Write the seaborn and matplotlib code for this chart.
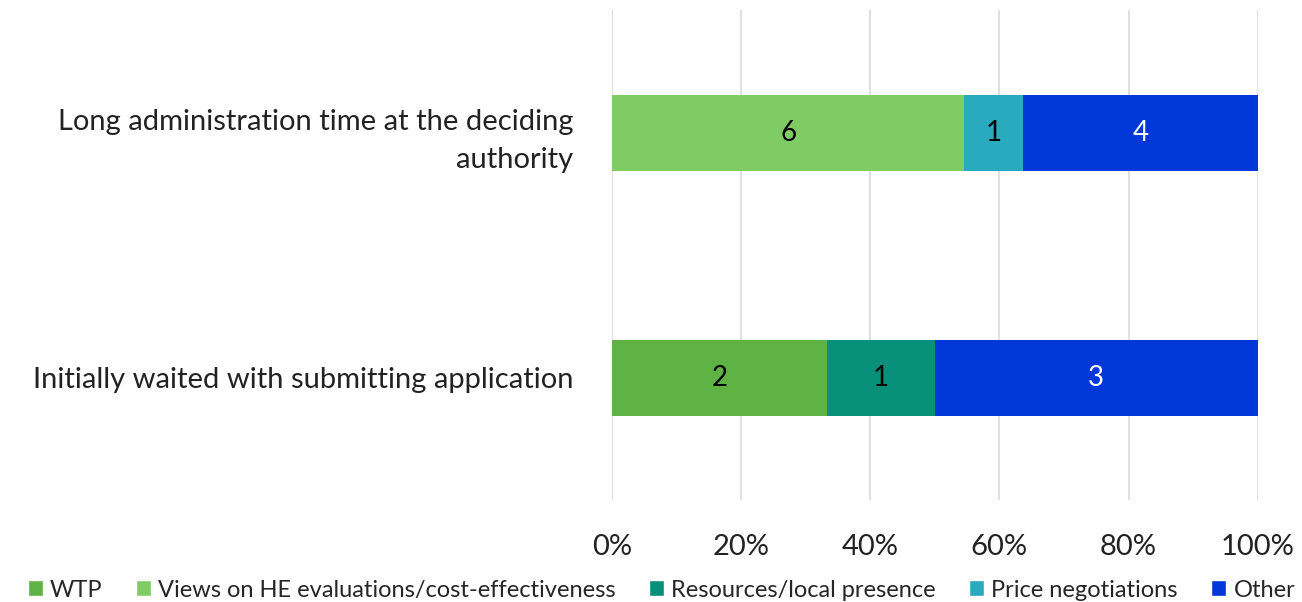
import numpy as np
import pandas as pd
import seaborn as sns
from matplotlib import pyplot as plt
from matplotlib.patches import Patch

categories = ["Long administration time at the deciding\nauthority",
              "Initially waited with submitting application"]
series = ["WTP", "Views on HE evaluations/cost-effectiveness",
          "Resources/local presence", "Price negotiations", "Other"]
wtp = [0, 2]
views = [6, 0]
resources = [0, 1]
price = [1, 0]
other = [4, 3]
colors = ["#5FB244", "#7FCB64", "#08907A", "#29AABF", "#0237D9"]
label_colors = ["black", "black", "black", "black", "white"]

sns.set_style("white")
plt.rcParams["font.family"] = ["Lato", "DejaVu Sans"]

counts = np.array([wtp, views, resources, price, other], dtype=float)
shares = counts / counts.sum(axis=0) * 100
cum = shares.cumsum(axis=0)

fig, ax = plt.subplots(figsize=(13.02, 6.02), dpi=100)
fig.subplots_adjust(left=0.470, right=0.966, top=0.983, bottom=0.169)

# stack by overlaying cumulative bars, widest first
for i in reversed(range(len(series))):
    df = pd.DataFrame({"cat": categories, "val": cum[i]})
    sns.barplot(data=df, x="val", y="cat", color=colors[i], width=0.31,
                saturation=1, linewidth=0, ax=ax, zorder=2)

for i in range(len(series)):
    for j in range(len(categories)):
        if counts[i, j] > 0:
            mid = cum[i, j] - shares[i, j] / 2
            ax.text(mid, j, f"{int(counts[i, j])}", ha="center", va="center",
                    fontsize=20, color=label_colors[i], zorder=3)

ax.set_xlim(0, 100)
ax.set_ylim(1.5, -0.5)
ax.set_xticks([0, 20, 40, 60, 80, 100])
ax.set_xticklabels([f"{t}%" for t in range(0, 101, 20)])
ax.grid(axis="x", color="#D9D9D9", linewidth=1.2, zorder=0)
ax.set_axisbelow(True)
for s in ax.spines.values():
    s.set_visible(False)
ax.set_xlabel("")
ax.set_ylabel("")
ax.tick_params(axis="x", length=0, pad=24, labelsize=21, colors="#222222")
ax.tick_params(axis="y", length=0, pad=28, labelsize=21, colors="#222222")
for lab in ax.get_yticklabels():
    lab.set_linespacing(1.55)

handles = [Patch(facecolor=c, label=s) for c, s in zip(colors, series)]
fig.legend(handles=handles, loc="lower center", bbox_to_anchor=(0.508, -0.033),
           ncol=5, frameon=False, fontsize=17, handlelength=0.65,
           handleheight=0.65, handletextpad=0.3, columnspacing=1.4)

fig.savefig("out.png", dpi=100)
